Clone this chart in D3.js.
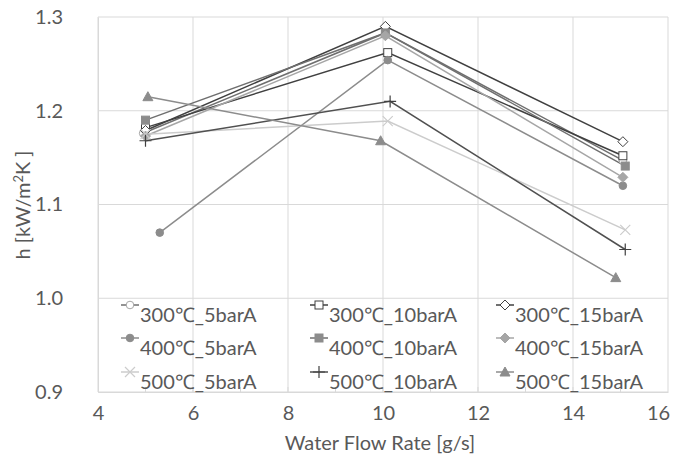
<!DOCTYPE html>
<html>
<head>
<meta charset="utf-8">
<script src="https://d3js.org/d3.v7.min.js"></script>
<style>
  body { margin: 0; background: #fff; }
  text { font-family: Lato, "Open Sans", sans-serif; fill: #595959; }
</style>
</head>
<body>
<div id="chart"></div>
<script>
// flow rate / heat transfer coefficient readings per condition
var seriesNames = ["300℃_5barA", "300℃_10barA", "300℃_15barA",
                   "400℃_5barA", "400℃_10barA", "400℃_15barA",
                   "500℃_5barA", "500℃_10barA", "500℃_15barA"];

var flow300_5 = [4.95, 10.05, 15.05];
var h300_5 = [1.176, 1.283, 1.147];
var flow300_10 = [5.0, 10.1, 15.05];
var h300_10 = [1.182, 1.262, 1.152];
var flow300_15 = [5.0, 10.05, 15.05];
var h300_15 = [1.179, 1.290, 1.167];
var flow400_5 = [5.3, 10.1, 15.05];
var h400_5 = [1.070, 1.254, 1.120];
var flow400_10 = [5.0, 10.05, 15.1];
var h400_10 = [1.190, 1.283, 1.141];
var flow400_15 = [5.0, 10.05, 15.05];
var h400_15 = [1.173, 1.280, 1.129];
var flow500_5 = [5.0, 10.1, 15.1];
var h500_5 = [1.175, 1.189, 1.073];
var flow500_10 = [5.0, 10.15, 15.1];
var h500_10 = [1.168, 1.210, 1.052];
var flow500_15 = [5.05, 9.95, 14.9];
var h500_15 = [1.215, 1.168, 1.022];

var xTicks = [4, 6, 8, 10, 12, 14, 16];
var yTicks = [0.9, 1.0, 1.1, 1.2, 1.3];

var flows = [flow300_5, flow300_10, flow300_15, flow400_5, flow400_10, flow400_15, flow500_5, flow500_10, flow500_15];
var hs = [h300_5, h300_10, h300_15, h400_5, h400_10, h400_15, h500_5, h500_10, h500_15];

// line colour, marker shape, filled?
var styles = [
  {line: "#6f6f6f", mark: "circle", fill: false, mc: "#a6a6a6"},
  {line: "#404040", mark: "square", fill: false, mc: "#404040"},
  {line: "#404040", mark: "diamond", fill: false, mc: "#404040"},
  {line: "#8c8c8c", mark: "circle", fill: true, mc: "#8c8c8c"},
  {line: "#6f6f6f", mark: "square", fill: true, mc: "#8c8c8c"},
  {line: "#a6a6a6", mark: "diamond", fill: true, mc: "#a6a6a6"},
  {line: "#cccccc", mark: "x", fill: false, mc: "#cccccc"},
  {line: "#505050", mark: "plus", fill: false, mc: "#404040"},
  {line: "#8c8c8c", mark: "triangle", fill: true, mc: "#8c8c8c"}
];

var data = seriesNames.map(function(n, i) {
  return {name: n, style: styles[i], pts: flows[i].map(function(f, j) { return {x: f, y: hs[i][j]}; })};
});

var W = 678, H = 463;
var svg = d3.select("#chart").append("svg").attr("width", W).attr("height", H);

var x = d3.scaleLinear().domain([4, 16]).range([98, 668]);
var y = d3.scaleLinear().domain([0.9, 1.3]).range([392, 17]);

// gridlines
svg.append("g").selectAll("line").data(yTicks).enter().append("line")
  .attr("x1", 98).attr("x2", 668)
  .attr("y1", function(d) { return y(d); }).attr("y2", function(d) { return y(d); })
  .attr("stroke", "#d9d9d9").attr("stroke-width", 1);
svg.append("g").selectAll("line").data(xTicks).enter().append("line")
  .attr("y1", 17).attr("y2", 392)
  .attr("x1", function(d) { return x(d); }).attr("x2", function(d) { return x(d); })
  .attr("stroke", "#d9d9d9").attr("stroke-width", 1);

// minor ticks on the x axis
svg.append("g").selectAll("line").data(d3.range(5, 16)).enter().append("line")
  .attr("x1", function(d) { return x(d); }).attr("x2", function(d) { return x(d); })
  .attr("y1", 392).attr("y2", 387)
  .attr("stroke", "#d9d9d9");

// axes labels via d3 axes
var xAxis = svg.append("g").attr("transform", "translate(0,392)")
  .call(d3.axisBottom(x).tickValues(xTicks).tickSize(0).tickPadding(14).tickFormat(d3.format("d")));
xAxis.select(".domain").attr("stroke", "#d9d9d9");
xAxis.selectAll("text").style("font-size", "20px").attr("fill", "#595959");
xAxis.selectAll(".tick").filter(function(d) { return d === 16; }).select("text").attr("dx", "-10");

var yAxis = svg.append("g").attr("transform", "translate(98,0)")
  .call(d3.axisLeft(y).tickValues(yTicks).tickSize(0).tickPadding(35).tickFormat(d3.format(".1f")));
yAxis.select(".domain").attr("stroke", "#d9d9d9");
yAxis.selectAll("text").style("font-size", "20px").attr("fill", "#595959");

svg.append("text").attr("x", 380).attr("y", 450).attr("text-anchor", "middle")
  .style("font-size", "20px").text("Water Flow Rate [g/s]");
svg.append("text").attr("transform", "translate(30,205) rotate(-90)").attr("text-anchor", "middle")
  .style("font-size", "20px")
  .html('h [kW/m<tspan dy="-7" style="font-size:13px">2</tspan><tspan dy="7">K ]</tspan>');

function drawMarker(g, s, cx, cy) {
  var fill = s.fill ? s.mc : "#fff";
  if (s.mark === "circle") {
    g.append("circle").attr("cx", cx).attr("cy", cy).attr("r", 3.8)
      .attr("fill", fill).attr("stroke", s.mc);
  } else if (s.mark === "square") {
    g.append("rect").attr("x", cx - 4).attr("y", cy - 4).attr("width", 8).attr("height", 8)
      .attr("fill", fill).attr("stroke", s.mc);
  } else if (s.mark === "diamond") {
    g.append("path").attr("d", "M" + cx + "," + (cy - 5) + "L" + (cx + 5) + "," + cy + "L" + cx + "," + (cy + 5) + "L" + (cx - 5) + "," + cy + "Z")
      .attr("fill", fill).attr("stroke", s.mc);
  } else if (s.mark === "triangle") {
    g.append("path").attr("d", "M" + cx + "," + (cy - 5) + "L" + (cx + 5) + "," + (cy + 4) + "L" + (cx - 5) + "," + (cy + 4) + "Z")
      .attr("fill", fill).attr("stroke", s.mc);
  } else if (s.mark === "x") {
    g.append("path").attr("d", "M" + (cx - 5) + "," + (cy - 5) + "L" + (cx + 5) + "," + (cy + 5) + "M" + (cx - 5) + "," + (cy + 5) + "L" + (cx + 5) + "," + (cy - 5))
      .attr("fill", "none").attr("stroke", s.mc).attr("stroke-width", 1.2);
  } else if (s.mark === "plus") {
    g.append("path").attr("d", "M" + (cx - 6) + "," + cy + "L" + (cx + 6) + "," + cy + "M" + cx + "," + (cy - 6) + "L" + cx + "," + (cy + 6))
      .attr("fill", "none").attr("stroke", s.mc).attr("stroke-width", 1.2);
  }
}

var line = d3.line().x(function(d) { return x(d.x); }).y(function(d) { return y(d.y); });

var series = svg.append("g");
data.forEach(function(s) {
  series.append("path").datum(s.pts).attr("d", line)
    .attr("fill", "none").attr("stroke", s.style.line).attr("stroke-width", 1.5);
});
data.forEach(function(s) {
  var g = series.append("g");
  s.pts.forEach(function(p) { drawMarker(g, s.style, x(p.x), y(p.y)); });
});

// legend, 3 columns
var legCols = [121, 310, 496];
var legRows = [305, 338, 372];
var legend = svg.append("g");
data.forEach(function(s, i) {
  var lx = legCols[i % 3], ly = legRows[Math.floor(i / 3)];
  var g = legend.append("g");
  g.append("line").attr("x1", lx).attr("x2", lx + 18).attr("y1", ly).attr("y2", ly)
    .attr("stroke", s.style.line).attr("stroke-width", 1.5);
  drawMarker(g, s.style, lx + 9, ly);
  g.append("text").attr("x", lx + 19).attr("y", ly + 17).style("font-size", "20px").text(s.name);
});
</script>
</body>
</html>
